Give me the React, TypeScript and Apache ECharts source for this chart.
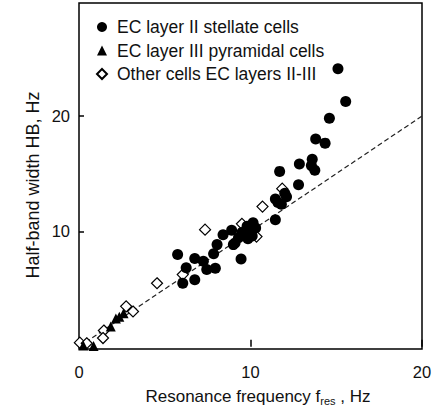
import React, { useEffect, useRef } from "react";
import * as echarts from "echarts";

const FONT = "'Liberation Sans', Arial, sans-serif";

const seriesNames = [
  "EC layer II stellate cells",
  "EC layer III pyramidal cells",
  "Other cells EC layers II-III",
];

const stellate: [number, number][] = [
  [15.1, 24.1], [15.55, 21.25], [14.6, 19.8], [13.8, 18.0], [14.35, 17.65],
  [12.85, 15.85], [13.6, 16.25], [13.55, 15.7], [13.75, 15.3], [11.7, 15.2],
  [12.8, 14.05], [12.0, 13.3], [11.45, 12.8], [11.8, 12.35], [12.1, 13.0],
  [11.6, 12.5], [11.45, 11.0], [10.15, 10.75], [10.3, 10.3], [9.8, 10.45],
  [8.9, 10.1], [8.4, 9.7], [9.7, 9.7], [10.05, 10.0], [9.5, 9.9],
  [10.1, 9.6], [9.85, 9.35], [9.3, 9.45], [9.0, 8.85], [9.1, 9.0],
  [8.05, 8.85], [7.85, 8.05], [5.75, 8.0], [6.75, 7.65], [7.25, 7.4],
  [9.45, 7.6], [6.25, 6.85], [7.45, 6.7], [7.95, 6.8], [6.75, 5.8],
  [6.05, 5.5],
];

const pyramidal: [number, number][] = [
  [0.25, 0.1], [0.85, 0.05], [1.85, 1.75], [2.15, 2.45], [2.35, 2.6], [2.6, 2.9],
];

const other: [number, number][] = [
  [11.85, 13.7], [10.7, 12.15], [7.35, 10.15], [9.5, 10.65], [10.35, 9.55],
  [6.05, 6.25], [4.55, 5.5], [2.75, 3.5], [3.15, 3.05], [1.45, 1.4],
  [1.4, 0.75], [0.05, 0.35], [0.45, 0.3],
];

const fitLine: [number, number][] = [[0, 0], [20, 20]];

const xTicks = { min: 0, max: 20, interval: 10 };
const yTickValues = [10, 20];

export default function App() {
  const ref = useRef<HTMLDivElement>(null);
  useEffect(() => {
    document.body.style.margin = "0";
    if (!ref.current) return;
    const chart = echarts.init(ref.current, null, { renderer: "svg" });
    chart.setOption({
      animation: false,
      backgroundColor: "#fff",
      grid: {
        left: 79,
        right: 20,
        top: 3,
        bottom: 58,
        show: true,
        borderColor: "#000",
        borderWidth: 1.5,
        backgroundColor: "transparent",
      },
      legend: {
        data: seriesNames,
        orient: "vertical",
        left: 91,
        top: 12,
        itemWidth: 10,
        itemHeight: 10,
        itemGap: 3.5,
        textStyle: {
          fontSize: 17.5,
          lineHeight: 20,
          color: "#111",
          fontFamily: FONT,
          padding: [0, 0, 0, 5],
        },
        selectedMode: false,
      },
      xAxis: {
        type: "value",
        min: xTicks.min,
        max: xTicks.max,
        interval: xTicks.interval,
        axisLine: { show: false },
        axisTick: {
          show: true,
          inside: true,
          length: 7,
          lineStyle: { color: "#000", width: 1.5 },
        },
        splitLine: { show: false },
        axisLabel: {
          margin: 14,
          fontSize: 16.5,
          color: "#111",
          fontFamily: FONT,
        },
      },
      yAxis: {
        type: "value",
        min: -0.2,
        max: 29.8,
        axisLine: { show: false },
        axisTick: {
          show: true,
          inside: true,
          length: 5,
          customValues: yTickValues,
          lineStyle: { color: "#000", width: 1.5 },
        },
        splitLine: { show: false },
        axisLabel: {
          customValues: yTickValues,
          margin: 9,
          fontSize: 16.5,
          color: "#111",
          fontFamily: FONT,
        },
      },
      graphic: [
        {
          type: "text",
          x: 33,
          y: 185,
          rotation: Math.PI / 2,
          style: {
            text: "Half-band width HB, Hz",
            align: "center",
            verticalAlign: "middle",
            fontSize: 18,
            fontFamily: FONT,
            fill: "#111",
          },
        },
        {
          type: "text",
          x: 258,
          y: 396,
          style: {
            text: "Resonance frequency f{sub|res} , Hz",
            align: "center",
            verticalAlign: "middle",
            fontSize: 17,
            fontFamily: FONT,
            fill: "#111",
            rich: {
              sub: {
                fontSize: 11,
                fontFamily: FONT,
                fill: "#111",
                padding: [9, 0, 0, 0],
              },
            },
          },
        },
      ],
      series: [
        {
          name: "fit",
          type: "line",
          data: fitLine,
          symbol: "none",
          silent: true,
          z: 1,
          lineStyle: { color: "#222", width: 1.2, type: [5, 3] },
        },
        {
          name: seriesNames[0],
          type: "scatter",
          data: stellate,
          symbol: "circle",
          symbolSize: 11,
          z: 3,
          itemStyle: { color: "#000", opacity: 1 },
        },
        {
          name: seriesNames[1],
          type: "scatter",
          data: pyramidal,
          symbol: "triangle",
          symbolSize: 10,
          z: 4,
          itemStyle: { color: "#000", opacity: 1 },
        },
        {
          name: seriesNames[2],
          type: "scatter",
          data: other,
          symbol: "diamond",
          symbolSize: 11,
          z: 2,
          itemStyle: { color: "#fff", borderColor: "#000", borderWidth: 1.2, opacity: 1 },
        },
      ],
    });
    return () => chart.dispose();
  }, []);
  return <div ref={ref} style={{ width: 442, height: 407 }} />;
}
